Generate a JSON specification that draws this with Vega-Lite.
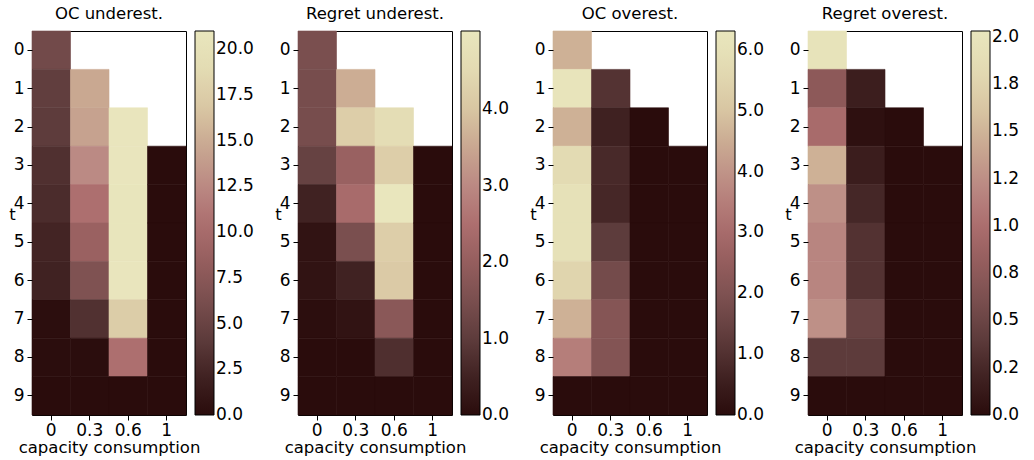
{
  "$schema": "https://vega.github.io/schema/vega-lite/v6.json",
  "padding": {"left": 8, "top": 5, "right": 0, "bottom": 0},
  "background": "white",
  "config": {
    "font": "DejaVu Sans",
    "view": {"stroke": "black", "strokeWidth": 1},
    "title": {"fontSize": 16.5, "fontWeight": "normal", "color": "black", "offset": 8, "font": "DejaVu Sans"},
    "axis": {"labelFontSize": 17, "titleFontSize": 16.5, "labelColor": "black", "titleColor": "black", "tickColor": "black", "domain": false, "grid": false, "tickSize": 5, "labelPadding": 3, "titleFontWeight": "normal", "labelFont": "DejaVu Sans", "titleFont": "DejaVu Sans"},
    "axisX": {"labelPadding": 2, "titlePadding": 1},
    "legend": {"gradientVerticalMaxLength": 400, "gradientVerticalMinLength": 384, "gradientLength": 384, "gradientThickness": 19, "gradientStrokeColor": "black", "gradientStrokeWidth": 1, "labelFontSize": 17, "labelColor": "black", "labelOffset": 6, "padding": 0, "offset": 9, "labelOverlap": false, "labelBaseline": "middle", "labelFont": "DejaVu Sans", "direction": "vertical"}
  },
  "datasets": {
    "oc_under": [
      {"cap": "0", "t": 0, "v": 5.7}, {"cap": "0", "t": 1, "v": 4.4}, {"cap": "0", "t": 2, "v": 4.2}, {"cap": "0", "t": 3, "v": 3.2}, {"cap": "0", "t": 4, "v": 2.9}, {"cap": "0", "t": 5, "v": 2.3}, {"cap": "0", "t": 6, "v": 2.1}, {"cap": "0", "t": 7, "v": 0.2}, {"cap": "0", "t": 8, "v": 0.05}, {"cap": "0", "t": 9, "v": 0.0},
      {"cap": "0.3", "t": 1, "v": 14.7}, {"cap": "0.3", "t": 2, "v": 14.3}, {"cap": "0.3", "t": 3, "v": 12.6}, {"cap": "0.3", "t": 4, "v": 10.5}, {"cap": "0.3", "t": 5, "v": 8.8}, {"cap": "0.3", "t": 6, "v": 6.7}, {"cap": "0.3", "t": 7, "v": 3.3}, {"cap": "0.3", "t": 8, "v": 0.1}, {"cap": "0.3", "t": 9, "v": 0.0},
      {"cap": "0.6", "t": 2, "v": 20.9}, {"cap": "0.6", "t": 3, "v": 20.9}, {"cap": "0.6", "t": 4, "v": 20.8}, {"cap": "0.6", "t": 5, "v": 20.8}, {"cap": "0.6", "t": 6, "v": 20.9}, {"cap": "0.6", "t": 7, "v": 17.4}, {"cap": "0.6", "t": 8, "v": 10.5}, {"cap": "0.6", "t": 9, "v": 0.0},
      {"cap": "1", "t": 3, "v": 0.0}, {"cap": "1", "t": 4, "v": 0.0}, {"cap": "1", "t": 5, "v": 0.0}, {"cap": "1", "t": 6, "v": 0.0}, {"cap": "1", "t": 7, "v": 0.0}, {"cap": "1", "t": 8, "v": 0.0}, {"cap": "1", "t": 9, "v": 0.0}
    ],
    "regret_under": [
      {"cap": "0", "t": 0, "v": 1.5}, {"cap": "0", "t": 1, "v": 1.45}, {"cap": "0", "t": 2, "v": 1.45}, {"cap": "0", "t": 3, "v": 1.15}, {"cap": "0", "t": 4, "v": 0.5}, {"cap": "0", "t": 5, "v": 0.15}, {"cap": "0", "t": 6, "v": 0.15}, {"cap": "0", "t": 7, "v": 0.05}, {"cap": "0", "t": 8, "v": 0.0}, {"cap": "0", "t": 9, "v": 0.0},
      {"cap": "0.3", "t": 1, "v": 3.6}, {"cap": "0.3", "t": 2, "v": 4.2}, {"cap": "0.3", "t": 3, "v": 2.1}, {"cap": "0.3", "t": 4, "v": 2.4}, {"cap": "0.3", "t": 5, "v": 1.5}, {"cap": "0.3", "t": 6, "v": 0.5}, {"cap": "0.3", "t": 7, "v": 0.15}, {"cap": "0.3", "t": 8, "v": 0.0}, {"cap": "0.3", "t": 9, "v": 0.0},
      {"cap": "0.6", "t": 2, "v": 4.6}, {"cap": "0.6", "t": 3, "v": 4.2}, {"cap": "0.6", "t": 4, "v": 5.0}, {"cap": "0.6", "t": 5, "v": 4.2}, {"cap": "0.6", "t": 6, "v": 4.1}, {"cap": "0.6", "t": 7, "v": 1.8}, {"cap": "0.6", "t": 8, "v": 0.75}, {"cap": "0.6", "t": 9, "v": 0.0},
      {"cap": "1", "t": 3, "v": 0.0}, {"cap": "1", "t": 4, "v": 0.0}, {"cap": "1", "t": 5, "v": 0.0}, {"cap": "1", "t": 6, "v": 0.0}, {"cap": "1", "t": 7, "v": 0.0}, {"cap": "1", "t": 8, "v": 0.0}, {"cap": "1", "t": 9, "v": 0.0}
    ],
    "oc_over": [
      {"cap": "0", "t": 0, "v": 4.6}, {"cap": "0", "t": 1, "v": 6.2}, {"cap": "0", "t": 2, "v": 4.6}, {"cap": "0", "t": 3, "v": 5.7}, {"cap": "0", "t": 4, "v": 6.0}, {"cap": "0", "t": 5, "v": 6.0}, {"cap": "0", "t": 6, "v": 5.5}, {"cap": "0", "t": 7, "v": 4.6}, {"cap": "0", "t": 8, "v": 3.5}, {"cap": "0", "t": 9, "v": 0.0},
      {"cap": "0.3", "t": 1, "v": 1.05}, {"cap": "0.3", "t": 2, "v": 0.6}, {"cap": "0.3", "t": 3, "v": 0.8}, {"cap": "0.3", "t": 4, "v": 0.75}, {"cap": "0.3", "t": 5, "v": 1.25}, {"cap": "0.3", "t": 6, "v": 1.75}, {"cap": "0.3", "t": 7, "v": 2.15}, {"cap": "0.3", "t": 8, "v": 2.1}, {"cap": "0.3", "t": 9, "v": 0.0},
      {"cap": "0.6", "t": 2, "v": 0.0}, {"cap": "0.6", "t": 3, "v": 0.0}, {"cap": "0.6", "t": 4, "v": 0.0}, {"cap": "0.6", "t": 5, "v": 0.0}, {"cap": "0.6", "t": 6, "v": 0.0}, {"cap": "0.6", "t": 7, "v": 0.0}, {"cap": "0.6", "t": 8, "v": 0.0}, {"cap": "0.6", "t": 9, "v": 0.0},
      {"cap": "1", "t": 3, "v": 0.0}, {"cap": "1", "t": 4, "v": 0.0}, {"cap": "1", "t": 5, "v": 0.0}, {"cap": "1", "t": 6, "v": 0.0}, {"cap": "1", "t": 7, "v": 0.0}, {"cap": "1", "t": 8, "v": 0.0}, {"cap": "1", "t": 9, "v": 0.0}
    ],
    "regret_over": [
      {"cap": "0", "t": 0, "v": 1.97}, {"cap": "0", "t": 1, "v": 0.75}, {"cap": "0", "t": 2, "v": 0.97}, {"cap": "0", "t": 3, "v": 1.48}, {"cap": "0", "t": 4, "v": 1.26}, {"cap": "0", "t": 5, "v": 1.18}, {"cap": "0", "t": 6, "v": 1.18}, {"cap": "0", "t": 7, "v": 1.26}, {"cap": "0", "t": 8, "v": 0.4}, {"cap": "0", "t": 9, "v": 0.0},
      {"cap": "0.3", "t": 1, "v": 0.17}, {"cap": "0.3", "t": 2, "v": 0.04}, {"cap": "0.3", "t": 3, "v": 0.16}, {"cap": "0.3", "t": 4, "v": 0.24}, {"cap": "0.3", "t": 5, "v": 0.33}, {"cap": "0.3", "t": 6, "v": 0.33}, {"cap": "0.3", "t": 7, "v": 0.47}, {"cap": "0.3", "t": 8, "v": 0.4}, {"cap": "0.3", "t": 9, "v": 0.0},
      {"cap": "0.6", "t": 2, "v": 0.0}, {"cap": "0.6", "t": 3, "v": 0.0}, {"cap": "0.6", "t": 4, "v": 0.0}, {"cap": "0.6", "t": 5, "v": 0.0}, {"cap": "0.6", "t": 6, "v": 0.0}, {"cap": "0.6", "t": 7, "v": 0.0}, {"cap": "0.6", "t": 8, "v": 0.0}, {"cap": "0.6", "t": 9, "v": 0.0},
      {"cap": "1", "t": 3, "v": 0.0}, {"cap": "1", "t": 4, "v": 0.0}, {"cap": "1", "t": 5, "v": 0.0}, {"cap": "1", "t": 6, "v": 0.0}, {"cap": "1", "t": 7, "v": 0.0}, {"cap": "1", "t": 8, "v": 0.0}, {"cap": "1", "t": 9, "v": 0.0}
    ]
  },
  "bounds": "flush",
  "spacing": 112,
  "resolve": {"scale": {"color": "independent", "x": "independent", "y": "independent"}, "legend": {"color": "independent"}},
  "hconcat": [
    {
      "data": {"name": "oc_under"},
      "title": "OC underest.",
      "width": 154, "height": 384,
      "mark": {"type": "rect", "strokeWidth": 0.6, "stroke": {"expr": "scale('concat_0_color', datum.v)"}},
      "encoding": {
        "x": {"field": "cap", "type": "ordinal", "scale": {"domain": ["0", "0.3", "0.6", "1"], "paddingInner": 0, "paddingOuter": 0}, "axis": {"labelAngle": 0}, "title": "capacity consumption"},
        "y": {"field": "t", "type": "ordinal", "scale": {"domain": [0, 1, 2, 3, 4, 5, 6, 7, 8, 9], "paddingInner": 0, "paddingOuter": 0}, "axis": {"titleAngle": 0, "titleX": -20, "titleY": 188, "titleAlign": "center", "titleBaseline": "alphabetic"}, "title": "t"},
        "color": {"field": "v", "type": "quantitative", "scale": {"domain": [0, 21.0], "interpolate": "rgb", "range": ["#2a0c0c", "#402222", "#5e3c3c", "#7a4f4f", "#955e5e", "#ad6f6f", "#bb8a84", "#c9a891", "#d9c7a3", "#e3dbb3", "#e9e6bd"]}, "legend": {"title": null, "values": [0, 2.5, 5, 7.5, 10, 12.5, 15, 17.5, 20], "format": ".1f", "encode": {"labels": {"update": {"baseline": {"value": "middle"}}}}}}
      }
    },
    {
      "bounds": "flush",
      "spacing": 101,
      "resolve": {"scale": {"color": "independent", "x": "independent", "y": "independent"}, "legend": {"color": "independent"}},
      "hconcat": [
        {
          "data": {"name": "regret_under"},
          "title": "Regret underest.",
          "width": 154, "height": 384,
          "mark": {"type": "rect", "strokeWidth": 0.6, "stroke": {"expr": "scale('concat_1_concat_0_color', datum.v)"}},
          "encoding": {
            "x": {"field": "cap", "type": "ordinal", "scale": {"domain": ["0", "0.3", "0.6", "1"], "paddingInner": 0, "paddingOuter": 0}, "axis": {"labelAngle": 0}, "title": "capacity consumption"},
            "y": {"field": "t", "type": "ordinal", "scale": {"domain": [0, 1, 2, 3, 4, 5, 6, 7, 8, 9], "paddingInner": 0, "paddingOuter": 0}, "axis": {"titleAngle": 0, "titleX": -20, "titleY": 188, "titleAlign": "center", "titleBaseline": "alphabetic"}, "title": "t"},
            "color": {"field": "v", "type": "quantitative", "scale": {"domain": [0, 5.02], "interpolate": "rgb", "range": ["#2a0c0c", "#402222", "#5e3c3c", "#7a4f4f", "#955e5e", "#ad6f6f", "#bb8a84", "#c9a891", "#d9c7a3", "#e3dbb3", "#e9e6bd"]}, "legend": {"title": null, "values": [0, 1, 2, 3, 4], "format": ".1f", "encode": {"labels": {"update": {"baseline": {"value": "middle"}}}}}}
          }
        },
        {
          "data": {"name": "oc_over"},
          "title": "OC overest.",
          "width": 154, "height": 384,
          "mark": {"type": "rect", "strokeWidth": 0.6, "stroke": {"expr": "scale('concat_1_concat_1_color', datum.v)"}},
          "encoding": {
            "x": {"field": "cap", "type": "ordinal", "scale": {"domain": ["0", "0.3", "0.6", "1"], "paddingInner": 0, "paddingOuter": 0}, "axis": {"labelAngle": 0}, "title": "capacity consumption"},
            "y": {"field": "t", "type": "ordinal", "scale": {"domain": [0, 1, 2, 3, 4, 5, 6, 7, 8, 9], "paddingInner": 0, "paddingOuter": 0}, "axis": {"titleAngle": 0, "titleX": -20, "titleY": 188, "titleAlign": "center", "titleBaseline": "alphabetic"}, "title": "t"},
            "color": {"field": "v", "type": "quantitative", "scale": {"domain": [0, 6.31], "interpolate": "rgb", "range": ["#2a0c0c", "#402222", "#5e3c3c", "#7a4f4f", "#955e5e", "#ad6f6f", "#bb8a84", "#c9a891", "#d9c7a3", "#e3dbb3", "#e9e6bd"]}, "legend": {"title": null, "values": [0, 1, 2, 3, 4, 5, 6], "format": ".1f", "encode": {"labels": {"update": {"baseline": {"value": "middle"}}}}}}
          }
        },
        {
          "data": {"name": "regret_over"},
          "title": "Regret overest.",
          "width": 154, "height": 384,
          "mark": {"type": "rect", "strokeWidth": 0.6, "stroke": {"expr": "scale('concat_1_concat_2_color', datum.v)"}},
          "encoding": {
            "x": {"field": "cap", "type": "ordinal", "scale": {"domain": ["0", "0.3", "0.6", "1"], "paddingInner": 0, "paddingOuter": 0}, "axis": {"labelAngle": 0}, "title": "capacity consumption"},
            "y": {"field": "t", "type": "ordinal", "scale": {"domain": [0, 1, 2, 3, 4, 5, 6, 7, 8, 9], "paddingInner": 0, "paddingOuter": 0}, "axis": {"titleAngle": 0, "titleX": -20, "titleY": 188, "titleAlign": "center", "titleBaseline": "alphabetic"}, "title": "t"},
            "color": {"field": "v", "type": "quantitative", "scale": {"domain": [0, 2.03], "interpolate": "rgb", "range": ["#2a0c0c", "#402222", "#5e3c3c", "#7a4f4f", "#955e5e", "#ad6f6f", "#bb8a84", "#c9a891", "#d9c7a3", "#e3dbb3", "#e9e6bd"]}, "legend": {"title": null, "values": [0, 0.25, 0.5, 0.75, 1, 1.25, 1.5, 1.75, 2], "labelExpr": "datum.value == 0.25 ? '0.2' : datum.value == 1.25 ? '1.2' : format(datum.value, '.1f')", "encode": {"labels": {"update": {"baseline": {"value": "middle"}}}}}}
          }
        }
      ]
    }
  ]
}
